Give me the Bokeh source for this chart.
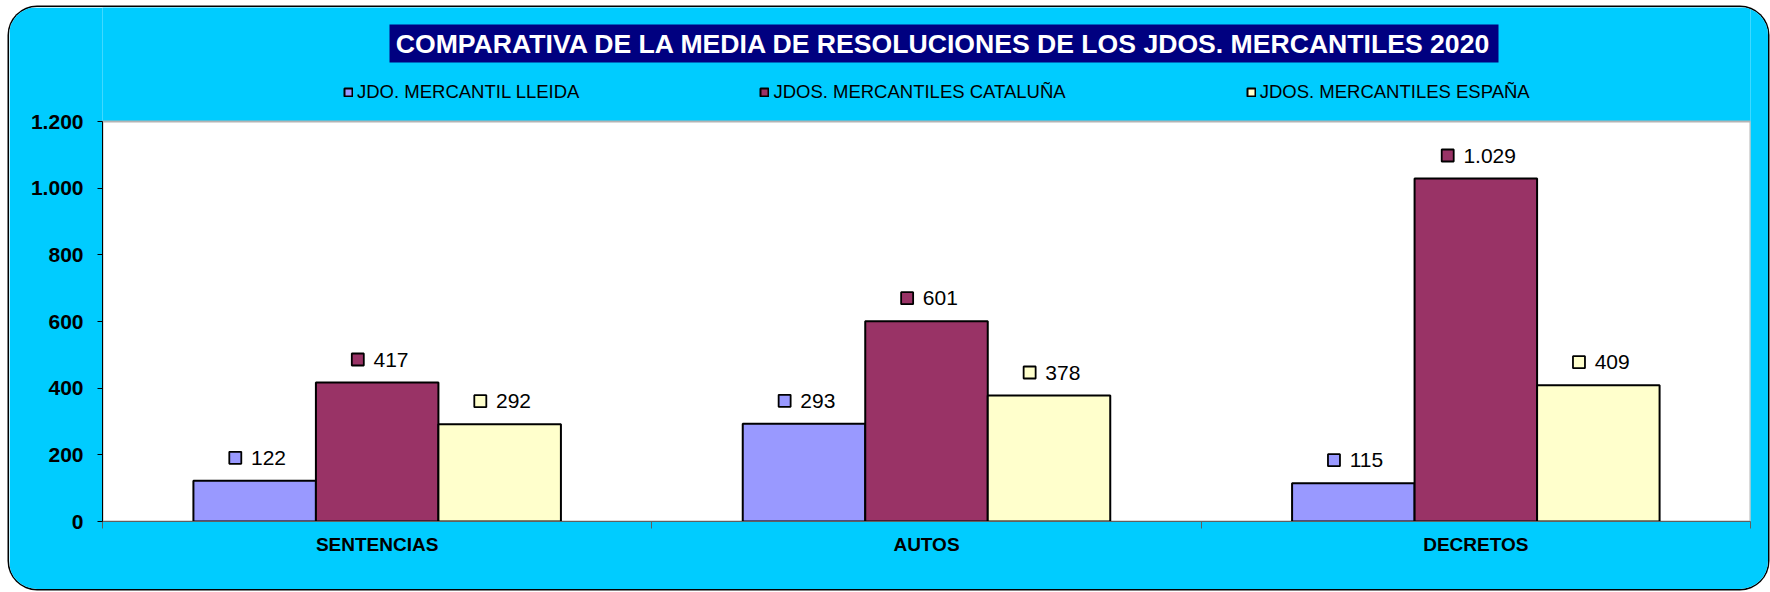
from bokeh.plotting import figure
from bokeh.models import (ColumnDataSource, Range1d, FactorRange, LinearAxis, FixedTicker,
                          BoxAnnotation, Label, Legend, LegendItem)
from bokeh.transform import dodge
from bokeh.core.properties import value
from bokeh.embed import file_html
from bokeh.resources import INLINE

# ---------------- data ----------------
title_text = "COMPARATIVA DE LA MEDIA DE RESOLUCIONES DE LOS JDOS. MERCANTILES 2020"
categories = ["SENTENCIAS", "AUTOS", "DECRETOS"]
series_names = ["JDO. MERCANTIL LLEIDA", "JDOS. MERCANTILES CATALUÑA", "JDOS. MERCANTILES ESPAÑA"]
lleida = [122, 293, 115]
cataluna = [417, 601, 1029]
espana = [292, 378, 409]
series_colors = ["#9999FF", "#993366", "#FFFFCC"]
y_ticks = [0, 200, 400, 600, 800, 1000, 1200]
y_tick_labels = ["0", "200", "400", "600", "800", "1.000", "1.200"]

series_values = [lleida, cataluna, espana]

# ---------------- layout constants ----------------
FONT = "Liberation Sans"
CYAN = "#00CCFF"
W, H = 1759, 582
FL, FR, FB = 93, 18, 68          # frame borders (frame reaches the top of the canvas)
PLOT_TOP = 114                   # canvas y of the value-axis maximum
FW = W - FL - FR
FRAME_BOTTOM = H - FB
FH = FRAME_BOTTOM - PLOT_TOP     # pixel height of 0..YMAX
YMAX = y_ticks[-1]
NCAT = len(categories)
BAR_W = 0.223
offsets = [-BAR_W, 0.0, BAR_W]
UNIT = FW / NCAT                 # pixels per category
LBL_FS = 21
SQ = 12
GAP = 9.7
PAD_PX = 23


def cx(px):   # canvas x pixel -> synthetic categorical coordinate
    return (px - FL) / UNIT


def cy(py):   # canvas y pixel -> value coordinate
    return (FRAME_BOTTOM - py) * YMAX / FH


p = figure(width=W, height=H, title=None,
           x_range=FactorRange(factors=categories, range_padding=0, factor_padding=0),
           y_range=Range1d(0, cy(0)),
           output_backend="svg", toolbar_location=None, x_axis_location=None,
           min_border_left=FL, min_border_right=FR, min_border_top=0, min_border_bottom=FB)
p.grid.visible = False
p.outline_line_color = None
p.background_fill_color = CYAN
p.border_fill_color = CYAN
p.styles = {"margin-left": "9px", "margin-top": "7px",
            "border-radius": "28px", "overflow": "hidden",
            "box-shadow": "0 0 0 1.5px #000000"}

# plot area (synthetic categorical coordinates 0..NCAT span the factors)
plot_bg = BoxAnnotation(left=0, right=NCAT, bottom=0, top=YMAX,
                        fill_color="white", fill_alpha=1, line_color="#b4b4b4",
                        line_alpha=1, line_width=2, level="underlay")
p.add_layout(plot_bg)

# bars
src = ColumnDataSource(dict(cats=categories, s0=lleida, s1=cataluna, s2=espana))
bar_renderers = []
for j in range(3):
    r = p.vbar(x=dodge("cats", offsets[j], range=p.x_range), top=f"s{j}", width=BAR_W,
               source=src, fill_color=series_colors[j], line_color="black", line_width=2)
    bar_renderers.append(r)

# data labels (legend key + value)
xs_sq, xs_tx, ys, lbls, cols = [], [], [], [], []
for j, vals in enumerate(series_values):
    for i, v in enumerate(vals):
        s = f"{v:,}".replace(",", ".")
        nd = sum(ch.isdigit() for ch in s)
        ndot = s.count(".")
        text_w = LBL_FS * (0.556 * nd + 0.278 * ndot)
        comp_w = SQ + GAP + text_w
        left_px = 3 - comp_w / 2
        xs_sq.append((categories[i], offsets[j] + (left_px + SQ / 2) / UNIT))
        xs_tx.append((categories[i], offsets[j] + (left_px + SQ + GAP) / UNIT))
        ys.append(v + PAD_PX * YMAX / FH)
        lbls.append(s)
        cols.append(series_colors[j])
lsrc = ColumnDataSource(dict(xs=xs_sq, xt=xs_tx, y=ys, lbl=lbls, col=cols))
p.scatter(x="xs", y="y", marker="square", size=SQ, fill_color="col", line_color="black",
          line_width=1.8, source=lsrc)
p.text(x="xt", y="y", text="lbl", source=lsrc, text_align="left", text_baseline="middle",
       text_font=value(FONT), text_font_size=f"{LBL_FS}px", text_color="black")

# y axis
ya = p.yaxis[0]
ya.bounds = (0, YMAX)
ya.ticker = FixedTicker(ticks=y_ticks)
ya.major_label_overrides = {t: l for t, l in zip(y_ticks, y_tick_labels)}
ya.axis_line_color = "black"
ya.major_tick_line_color = "black"
ya.major_tick_out = 5
ya.major_tick_in = 0
ya.minor_tick_line_color = None
ya.major_label_standoff = 14
ya.major_label_text_font = FONT
ya.major_label_text_font_size = "21px"
ya.major_label_text_font_style = "bold"
ya.major_label_text_color = "black"

# x axis: labels at category centres, small ticks at category boundaries
xa = LinearAxis(ticker=FixedTicker(ticks=[i + 0.5 for i in range(NCAT)],
                                   minor_ticks=list(range(NCAT + 1))),
                major_label_overrides={i + 0.5: c for i, c in enumerate(categories)})
xa.axis_line_color = "#606060"
xa.major_tick_out = 0
xa.major_tick_in = 0
xa.major_tick_line_color = None
xa.minor_tick_out = 7
xa.minor_tick_in = 0
xa.minor_tick_line_color = "#606060"
xa.major_label_standoff = 5
xa.major_label_text_font = FONT
xa.major_label_text_font_size = "19px"
xa.major_label_text_font_style = "bold"
xa.major_label_text_color = "black"
p.add_layout(xa, "below")

# title
p.add_layout(BoxAnnotation(left=cx(380), right=cx(1489), top=cy(17), bottom=cy(55),
                           fill_color="#000080", fill_alpha=1, line_color=None,
                           level="annotation"))
p.add_layout(Label(x=cx(934.5), y=cy(36), text=title_text,
                   text_align="center", text_baseline="middle", text_color="white",
                   text_font=FONT, text_font_size="26.6px", text_font_style="bold"))

# legend
legend = Legend(items=[LegendItem(label=n, renderers=[r]) for n, r in zip(series_names, bar_renderers)],
                orientation="horizontal", location=(241, 418.5), spacing=180, padding=0, margin=0,
                glyph_width=10, glyph_height=10, label_standoff=4,
                label_text_font=FONT, label_text_font_size="18.5px", label_text_color="black",
                background_fill_alpha=0, border_line_alpha=0)
p.add_layout(legend)

open("out.html", "w").write(file_html(p, INLINE))
